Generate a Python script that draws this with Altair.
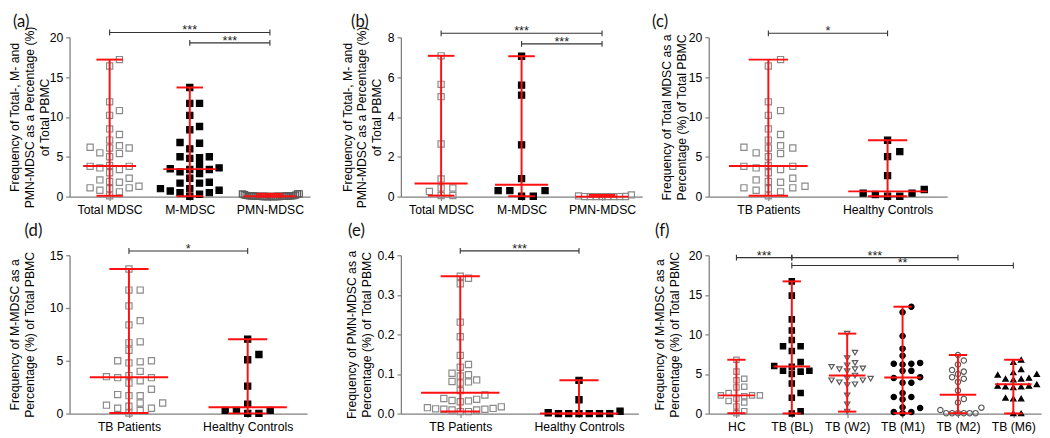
import altair as alt
import pandas as pd

# ---------------- data ----------------
MDSC_GROUPS = ["Total MDSC", "M-MDSC", "PMN-MDSC"]
COHORTS = ["TB Patients", "Healthy Controls"]
TIME_GROUPS = ["HC", "TB (BL)", "TB (W2)", "TB (M1)", "TB (M2)", "TB (M6)"]

# TB patients (n=32)
TB_TOTAL = [6.1, 3.4, 2.1, 1.1, 6.1, 5.0, 3.8, 3.0, 1.9, 0.8, 0.1, 16.4, 11.9, 10.2, 7.8, 7.1,
            5.5, 3.9, 1.1, 17.2, 10.8, 8.5, 6.4, 5.4, 3.6, 2.3, 1.3, 0.6, 6.2, 3.8, 1.8, 1.0]
TB_M = [4.0, 0.7, 5.0, 3.1, 2.3, 1.0, 0.05, 11.7, 8.4, 6.7, 4.8, 3.4, 1.7, 0.5, 13.7, 10.2,
        6.0, 11.7, 8.8, 6.8, 5.0, 3.5, 2.9, 1.7, 1.0, 0.3, 4.9, 3.6, 1.8, 0.5, 3.4, 0.8]
TB_PMN = [0.009, 0.017, 0.012, 0.033, 0.015, 0.036, 0.058, 0.085, 0.342, 0.231, 0.194, 0.147,
          0.124, 0.102, 0.081, 0.047, 0.005, 0.347, 0.328, 0.117, 0.098, 0.077, 0.038, 0.013,
          0.095, 0.080, 0.030, 0.011, 0.011, 0.005, 0.032, 0.009]
# Healthy controls (n=10)
HC_TOTAL = [0.43, 0.05, 7.07, 5.64, 5.02, 2.64, 0.89, 0.26, 0.43, 0.05]
HC_M = [0.02, 0.3, 7.05, 5.6, 5.1, 2.6, 0.9, 0.3, 0.3, 0.02]
HC_PMN = [0.0, 0.006, 0.0, 0.002, 0.084, 0.035, 0.0, 0.0, 0.0, 0.0]
# Panel (f): M-MDSC over treatment
F_HC = [6.8, 5.3, 4.4, 4.2, 3.4, 3.3, 2.6, 2.3, 2.3, 2.3, 2.2, 1.9, 1.6, 1.4, 0.9, 0.3, 0.05]
F_BL = [16.7, 14.9, 11.9, 10.5, 9.3, 8.5, 8.5, 7.9, 6.5, 6.0, 5.9, 5.4, 5.4, 5.3, 5.0, 3.8,
        2.6, 2.0, 0.3, 0.02]
F_W2 = [10.1, 7.7, 7.0, 6.4, 6.1, 5.9, 5.7, 5.6, 5.6, 5.35, 4.8, 4.4, 4.4, 4.2, 4.2, 3.95,
        3.7, 3.6, 2.3, 1.15, 0.25]
F_M1 = [13.5, 12.8, 9.8, 8.2, 7.3, 6.4, 6.3, 6.3, 6.2, 5.4, 5.4, 4.6, 4.5, 3.9, 3.9, 2.6,
        2.1, 2.1, 1.8, 0.8, 0.7, 0.2, 0.2, 0.05]
F_M2 = [7.4, 6.7, 6.2, 5.5, 5.3, 5.0, 4.6, 4.4, 4.0, 2.9, 1.85, 1.4, 0.75, 0.45, 0.05, 0.05,
        0.05, 0.05, 0.05, 0.05]
F_M6 = [6.8, 6.5, 5.6, 5.2, 5.0, 4.9, 4.5, 4.4, 4.4, 4.3, 3.7, 3.5, 3.5, 3.4, 3.4, 3.3, 2.0,
        1.9, 1.9, 0.02, 0.02]

TICKS_20 = [0, 5, 10, 15, 20]
TICKS_8 = [0, 2, 4, 6, 8]
TICKS_15 = [0, 5, 10, 15]
TICKS_04 = [0.0, 0.1, 0.2, 0.3, 0.4]

# significance brackets: (from, to, level, label)
BR_A = [("Total MDSC", "PMN-MDSC", 20.6, "***"), ("M-MDSC", "PMN-MDSC", 19.3, "***")]
BR_B = [("Total MDSC", "PMN-MDSC", 8.2, "***"), ("M-MDSC", "PMN-MDSC", 7.67, "***")]
BR_C = [("TB Patients", "Healthy Controls", 20.5, "*")]
BR_D = [("TB Patients", "Healthy Controls", 15.4, "*")]
BR_E = [("TB Patients", "Healthy Controls", 0.411, "***")]
BR_F = [("HC", "TB (BL)", 19.7, "***"), ("TB (BL)", "TB (M2)", 19.7, "***"),
        ("TB (BL)", "TB (M6)", 18.7, "**")]

RED = "#ff1010"
HOLLOW = "#8a8a8a"
HOLLOW_DARK = "#5a5a5a"
AXIS_GRAY = "#7f7f7f"
FONT = "Liberation Sans"


def swarm(values, ppu, d, s, maxhalf):
    """GraphPad-like scatter arrangement: horizontal pixel offsets from the values."""
    n = len(values)
    order = sorted(range(n), key=lambda k: values[k])
    cands = sorted({k * d / 2.0 for k in range(-60, 61)}, key=lambda c: (abs(c), -c))
    placed = []
    offs = [0.0] * n
    for k in order:
        y = values[k] * ppu
        chosen = 0.0
        for c in cands:
            if all(abs(c - px) >= d * 0.999 or abs(y - py) >= s for px, py in placed):
                chosen = c
                break
        offs[k] = chosen
        placed.append((chosen, y))
    m = max(abs(o) for o in offs) or 1.0
    if m > maxhalf:
        offs = [o * maxhalf / m for o in offs]
    return offs


AXIS_STYLE = dict(
    grid=False, domainColor=AXIS_GRAY, domainWidth=1.3, tickColor=AXIS_GRAY, tickWidth=1.2,
    tickSize=4, labelColor="black", labelFont=FONT, labelFontSize=12.5, labelPadding=3,
    titleColor="black", titleFont=FONT, titleFontSize=12.5, titleFontWeight="normal",
    titleLineHeight=15,
)


def panel(groups, series, width, height, ymax, yticks, yfmt, ytitle, title_x,
          label, label_dx, label_dy, shapes, fills, strokes, size, brackets,
          d, s, maxhalf):
    step = width / len(groups)
    ppu = height / ymax
    rows = []
    for i, (g, vals) in enumerate(zip(groups, series)):
        offs = swarm(vals, ppu, d, s, maxhalf)
        for v, o in zip(vals, offs):
            rows.append({"g": g, "i": i, "v": v, "xp": i + o / step})
    df = pd.DataFrame(rows)

    xs = alt.Scale(domain=[-0.5, len(groups) - 0.5], nice=False, zero=False)
    ys = alt.Scale(domain=[0, ymax], nice=False, zero=True)
    lab_expr = "[" + ",".join("'%s'" % g for g in groups) + "][datum.value]"
    xaxis = alt.Axis(values=list(range(len(groups))), labelExpr=lab_expr, title=None,
                     labelAngle=0, **AXIS_STYLE)
    yaxis = alt.Axis(values=yticks, format=yfmt, title=ytitle, titleX=title_x,
                     titleBaseline="top", **AXIS_STYLE)

    def X(f):
        return alt.X(f, scale=xs, axis=xaxis)

    def Y(f):
        return alt.Y(f, scale=ys, axis=yaxis)

    base = alt.Chart(df)
    pts = base.mark_point(filled=True, opacity=1, strokeWidth=1.2, size=size).encode(
        x=X("xp:Q"), y=Y("v:Q"),
        shape=alt.Shape("g:N", scale=alt.Scale(domain=groups, range=shapes), legend=None),
        fill=alt.Fill("g:N", scale=alt.Scale(domain=groups, range=fills), legend=None),
        stroke=alt.Stroke("g:N", scale=alt.Scale(domain=groups, range=strokes), legend=None),
    )

    agg = base.transform_aggregate(
        lo="min(v)", hi="max(v)", med="median(v)", groupby=["g", "i"]
    ).transform_calculate(
        ml="datum.i - 0.33", mr="datum.i + 0.33", cl="datum.i - 0.165", cr="datum.i + 0.165"
    )
    red = dict(color=RED, strokeWidth=2)
    vline = agg.mark_rule(**red).encode(x=X("i:Q"), y=Y("lo:Q"), y2="hi:Q")
    med = agg.mark_rule(**red).encode(x=X("ml:Q"), x2="mr:Q", y=Y("med:Q"))
    cap_hi = agg.mark_rule(**red).encode(x=X("cl:Q"), x2="cr:Q", y=Y("hi:Q"))
    cap_lo = agg.mark_rule(**red).encode(x=X("cl:Q"), x2="cr:Q", y=Y("lo:Q"))

    bdf = pd.DataFrame([{"i1": groups.index(a), "i2": groups.index(b), "lev": l, "txt": t}
                        for a, b, l, t in brackets])
    bb = alt.Chart(bdf)
    bcol = "#333333"
    bline = bb.mark_rule(color=bcol, strokeWidth=1.1).encode(
        x=X("i1:Q"), x2="i2:Q", y=Y("lev:Q"))
    bend1 = bb.mark_rule(color=bcol, strokeWidth=1.1, yOffset=-3, y2Offset=3).encode(
        x=X("i1:Q"), y=Y("lev:Q"), y2="lev:Q")
    bend2 = bb.mark_rule(color=bcol, strokeWidth=1.1, yOffset=-3, y2Offset=3).encode(
        x=X("i2:Q"), y=Y("lev:Q"), y2="lev:Q")
    btxt = bb.transform_calculate(mid="(datum.i1 + datum.i2) / 2").mark_text(
        baseline="alphabetic", dy=2, fontSize=13, font=FONT, color="#222222").encode(
        x=X("mid:Q"), y=Y("lev:Q"), text="txt:N")

    lab = alt.Chart(pd.DataFrame({"t": [label]})).mark_text(
        align="left", baseline="middle", fontSize=17, font="Lato", color="#111111").encode(
        text="t:N", x=alt.value(label_dx), y=alt.value(label_dy))

    return alt.layer(pts, vline, med, cap_hi, cap_lo, bline, bend1, bend2, btxt, lab).properties(
        width=width, height=height)


def spacer(w):
    return alt.Chart(pd.DataFrame({"z": [0]})).mark_point(opacity=0).encode(
        x=alt.value(0), y=alt.value(0)).properties(width=w, height=1)


TITLE_AB = ["Frequency of Total-, M- and", "PMN-MDSC as a Percentage (%)", "of Total PBMC"]

pa = panel(MDSC_GROUPS, [TB_TOTAL, TB_M, TB_PMN], 246, 163, 20, TICKS_20, "d", TITLE_AB, -62,
           "(a)", -58, -16, ["square", "square", "square"],
           ["transparent", "black", "transparent"], [HOLLOW, "black", HOLLOW_DARK], 40,
           BR_A, 11, 7, 30)
pb = panel(MDSC_GROUPS, [HC_TOTAL, HC_M, HC_PMN], 247, 163, 8, TICKS_8, "d", TITLE_AB, -61,
           "(b)", -51, -16, ["square", "square", "square"],
           ["transparent", "black", "transparent"], [HOLLOW, "black", HOLLOW], 40,
           BR_B, 12, 7, 30)
pc = panel(COHORTS, [TB_TOTAL, HC_TOTAL], 244, 163, 20, TICKS_20, "d",
           ["Frequency of Total MDSC as a", "Percentage (%) of Total PBMC"], -49,
           "(c)", -58, -16, ["square", "square"], ["transparent", "black"], [HOLLOW, "black"], 40,
           BR_C, 12.5, 7, 45)
pd_ = panel(COHORTS, [TB_M, HC_M], 243, 162, 15, TICKS_15, "d",
            ["Frequency of M-MDSC as a", "Percentage (%) of Total PBMC"], -62,
            "(d)", -46, -25, ["square", "square"], ["transparent", "black"], [HOLLOW, "black"], 40,
            BR_D, 11.5, 7, 38)
pe = panel(COHORTS, [TB_PMN, HC_PMN], 243, 162, 0.4, TICKS_04, ".1f",
           ["Frequency of PMN-MDSC as a", "Percentage (%) of Total PBMC"], -56,
           "(e)", -54, -25, ["square", "square"], ["transparent", "black"], [HOLLOW, "black"], 40,
           BR_E, 12, 7, 42)
pf = panel(TIME_GROUPS, [F_HC, F_BL, F_W2, F_M1, F_M2, F_M6], 340, 162, 20, TICKS_20, "d",
           ["Frequency of M-MDSC as a", "Percentage (%) of Total PBMC"], -56,
           "(f)", -55, -25,
           ["square", "square", "triangle-down", "circle", "circle", "triangle-up"],
           ["transparent", "black", "transparent", "black", "transparent", "black"],
           [HOLLOW, "black", HOLLOW_DARK, "black", HOLLOW_DARK, "black"], 30,
           BR_F, 9, 6, 24)

chart = alt.concat(
    pa, spacer(93), pb, spacer(68), pc,
    pd_, spacer(84), pe, spacer(60), pf,
    columns=5, spacing={"row": 60, "column": 0}, bounds="flush", align="none",
).resolve_scale(
    shape="independent", fill="independent", stroke="independent"
).properties(
    padding={"left": 0, "top": 0, "right": 0, "bottom": 0}
).configure_view(stroke=None)

chart.save("out.html", embed_options={"renderer": "svg", "actions": False})
